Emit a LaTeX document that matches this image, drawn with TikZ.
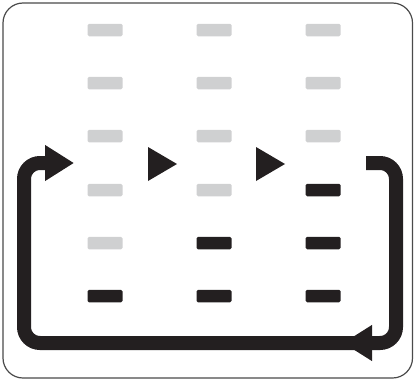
\documentclass[tikz,border=0pt]{standalone}
\usepackage{tikz}
\usetikzlibrary{arrows.meta, positioning}

\definecolor{bargray}{HTML}{CFD0D1}
\definecolor{inkblack}{HTML}{231F20}
\definecolor{framegray}{HTML}{4A4A4A}

\begin{document}
\begin{tikzpicture}[
      x=1pt, y=-1pt,
      bar/.style={rounded corners=1.5pt, minimum width=35pt,
                  minimum height=12.5pt, inner sep=0pt, fill=bargray},
      donebar/.style={bar, fill=inkblack},
      loopline/.style={draw=inkblack, line width=14pt,
                       rounded corners=16pt},
      looptip/.style={-{Triangle[length=29pt, width=34pt]}}
    ]
    \useasboundingbox (0,0) rectangle (414,380);
    \draw[framegray, line width=1.2pt, rounded corners=20pt]
      (3,3) rectangle (412.5,378);
    % column 1
    \node[bar]     (a1) at (105,30)  {};
    \node[bar]     (a2) at (105,83)  {};
    \node[bar]     (a3) at (105,136) {};
    \node[bar]     (a4) at (105,190) {};
    \node[bar]     (a5) at (105,243) {};
    \node[donebar] (a6) at (105,296) {};
    % column 2
    \node[bar]     (b1) at (214,30)  {};
    \node[bar]     (b2) at (214,83)  {};
    \node[bar]     (b3) at (214,136) {};
    \node[bar]     (b4) at (214,190) {};
    \node[donebar] (b5) at (214,243) {};
    \node[donebar] (b6) at (214,296) {};
    % column 3
    \node[bar]     (c1) at (323,30)  {};
    \node[bar]     (c2) at (323,83)  {};
    \node[bar]     (c3) at (323,136) {};
    \node[donebar] (c4) at (323,190) {};
    \node[donebar] (c5) at (323,243) {};
    \node[donebar] (c6) at (323,296) {};
    % step marks between the columns
    \fill[inkblack] (148,147) -- (177,164) -- (148,181) -- cycle;
    \fill[inkblack] (256,147) -- (285,164) -- (256,181) -- cycle;
    % the loop back
    \coordinate (out)  at (366,163);
    \coordinate (turn) at (343,343);
    \coordinate (back) at (74,163);
    \draw[loopline, looptip] (out) -- (396,163) -- (396,343) -- (turn);
    \draw[loopline, looptip] (358,343) -- (24,343) -- (24,163) -- (back);
  \end{tikzpicture}
\end{document}
